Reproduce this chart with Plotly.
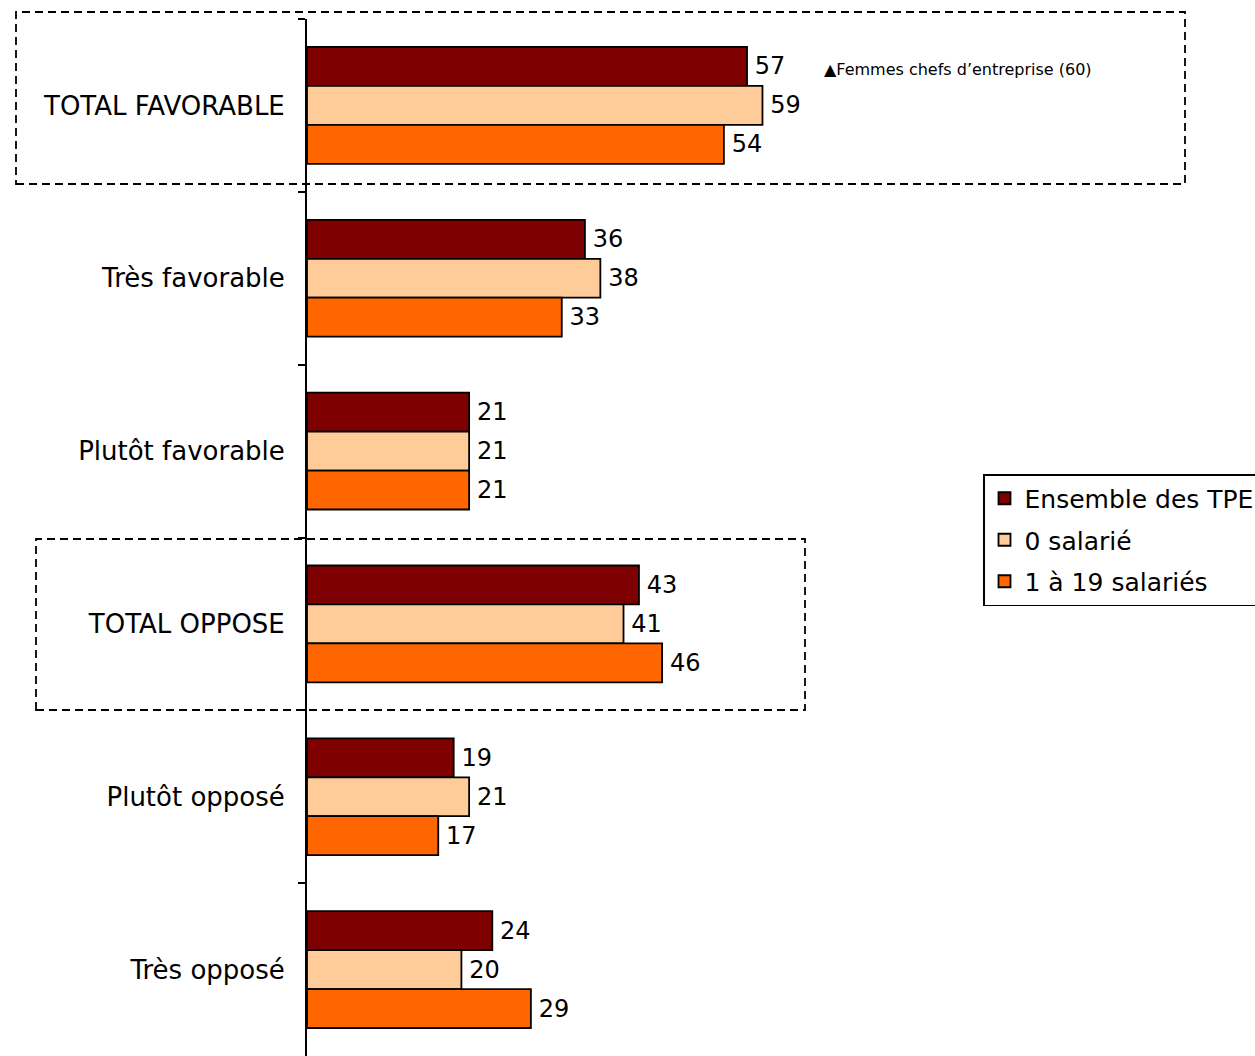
import plotly.graph_objects as go

categories = ["TOTAL FAVORABLE", "Très favorable", "Plutôt favorable",
              "TOTAL OPPOSE", "Plutôt opposé", "Très opposé"]
series_names = ["Ensemble des TPE", "0 salarié", "1 à 19 salariés"]
ensemble = [57, 36, 21, 43, 19, 24]
zero_salarie = [59, 38, 21, 41, 21, 20]
un_a_19 = [54, 33, 21, 46, 17, 29]
colors = ["#7F0000", "#FFCC99", "#FF6600"]
note_text = "▲Femmes chefs d’entreprise (60)"

OFF = 0  # page body margin removed via post_script
W, H = 1255, 1056
ML, MT = 307 - OFF, 19 - OFF
MB = 0
MR = 0
PW = W - ML - MR
PH = H - MT - MB
px_per_unit = 7.72

fig = go.Figure()
for name, vals, col in zip(series_names, [ensemble, zero_salarie, un_a_19], colors):
    fig.add_trace(go.Bar(
        y=categories, x=vals, name=name, orientation="h",
        marker=dict(color=col, line=dict(color="black", width=1.8)),
        text=vals, texttemplate="\u2009%{x}", textposition="outside",
        textfont=dict(size=24, color="black", family="DejaVu Sans"),
        cliponaxis=False, legendgroup=name,
    ))

def px2x(px):
    return (px - OFF - ML) / PW

def py2y(py):
    return (H - MB - (py - OFF)) / PH

shapes = []
for (x0, y0, x1, y1) in [(16, 12, 1185, 184), (36, 539, 805, 710)]:
    shapes.append(dict(type="rect", xref="paper", yref="paper",
                       x0=px2x(x0), x1=px2x(x1), y0=py2y(y1), y1=py2y(y0),
                       line=dict(color="black", width=1.8, dash="8px,5px"),
                       fillcolor="rgba(0,0,0,0)", layer="above"))

fig.update_layout(
    width=W, height=H,
    margin=dict(l=ML, r=MR, t=MT, b=MB, autoexpand=False),
    paper_bgcolor="white", plot_bgcolor="white",
    barmode="group", bargap=0.324, bargroupgap=0,
    font=dict(family="DejaVu Sans", size=24, color="black"),
    xaxis=dict(range=[0, PW / px_per_unit], visible=False, fixedrange=True),
    yaxis=dict(autorange="reversed", showline=True, linecolor="black", linewidth=2,
               ticks="outside", ticklen=7, tickwidth=1.5, tickcolor="black",
               tickson="boundaries", showgrid=False, zeroline=False,
               ticklabelstandoff=15, fixedrange=True,
               tickfont=dict(size=26, family="DejaVu Sans", color="black")),
    legend=dict(x=px2x(983), y=py2y(474), xanchor="left", yanchor="top",
                bordercolor="black", borderwidth=1.5, bgcolor="white",
                font=dict(size=25, family="DejaVu Sans", color="black"),
                traceorder="grouped", tracegroupgap=6, itemwidth=30),
    shapes=shapes,
    annotations=[dict(text=note_text, xref="paper", yref="paper",
                      x=px2x(822), y=py2y(69), xanchor="left", yanchor="middle",
                      showarrow=False,
                      font=dict(size=16, family="DejaVu Sans", color="black"))],
)

fig.write_html("out.html", config={"displayModeBar": False},
               post_script="document.body.style.margin='0';document.body.style.overflow='hidden';")
